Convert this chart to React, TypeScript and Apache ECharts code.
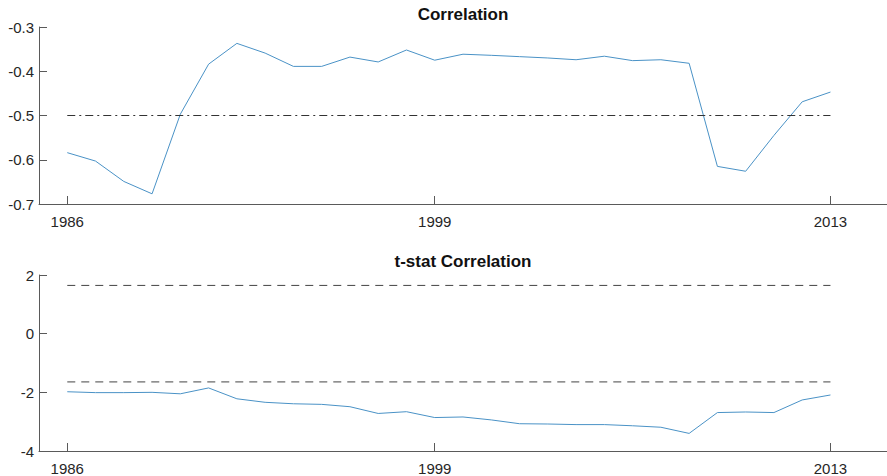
import React, { useEffect, useRef } from "react";
import * as echarts from "echarts";

const years = [1986,1987,1988,1989,1990,1991,1992,1993,1994,1995,1996,1997,1998,1999,2000,2001,2002,2003,2004,2005,2006,2007,2008,2009,2010,2011,2012,2013];
const correlation = [-0.584,-0.603,-0.649,-0.677,-0.497,-0.384,-0.337,-0.359,-0.389,-0.389,-0.368,-0.379,-0.352,-0.375,-0.3615,-0.364,-0.367,-0.370,-0.374,-0.366,-0.376,-0.374,-0.382,-0.615,-0.626,-0.545,-0.469,-0.447];
const tstat = [-1.98,-2.01,-2.01,-2.00,-2.05,-1.85,-2.22,-2.34,-2.39,-2.41,-2.49,-2.72,-2.66,-2.86,-2.84,-2.94,-3.07,-3.08,-3.10,-3.10,-3.14,-3.19,-3.40,-2.69,-2.67,-2.69,-2.26,-2.09];
const xTickYears = [1986, 1999, 2013];
const corrThreshold = -0.5;
const tCritical = 1.645;

export default function App() {
  const ref = useRef<HTMLDivElement>(null);
  useEffect(() => {
    if (!ref.current) return;
    const chart = echarts.init(ref.current, null, { renderer: "svg" });
    const font = "Liberation Sans, Arial, Helvetica, sans-serif";
    const axisColor = "#5a5a5a";
    const labelColor = "#262626";
    const lineColor = "#4a92c6";
    const first = years[0];
    const last = years[years.length - 1];
    const xAxisBase = (gridIndex: number) => ({
      type: "value",
      gridIndex,
      min: 1985,
      max: 2015,
      axisLine: { show: true, onZero: false, lineStyle: { color: axisColor, width: 1 } },
      axisTick: { show: true, inside: true, length: 8, customValues: xTickYears, lineStyle: { color: axisColor } },
      axisLabel: {
        customValues: xTickYears, color: labelColor, fontSize: 15, fontFamily: font, margin: 10,
        formatter: (v: number) => String(v),
      },
      splitLine: { show: false },
    });
    const yAxisBase = (gridIndex: number, min: number, max: number, interval: number) => ({
      type: "value",
      gridIndex,
      min,
      max,
      interval,
      axisLine: { show: true, onZero: false, lineStyle: { color: axisColor, width: 1 } },
      axisTick: { show: true, inside: true, length: 8, lineStyle: { color: axisColor } },
      axisLabel: {
        color: labelColor, fontSize: 15, fontFamily: font, margin: 5,
        formatter: (v: number) => String(Math.round(v * 10) / 10),
      },
      splitLine: { show: false },
    });
    chart.setOption({
      animation: false,
      backgroundColor: "#ffffff",
      title: [
        { text: "Correlation", left: 463, top: 6, padding: 0, textAlign: "center",
          textStyle: { fontSize: 17, fontWeight: "bold", color: "#111", fontFamily: font } },
        { text: "t-stat Correlation", left: 463, top: 253, padding: 0, textAlign: "center",
          textStyle: { fontSize: 17, fontWeight: "bold", color: "#111", fontFamily: font } },
      ],
      grid: [
        { left: 39, right: -1, top: 27, height: 177 },
        { left: 39, right: -1, top: 275, height: 176 },
      ],
      xAxis: [xAxisBase(0), xAxisBase(1)],
      yAxis: [yAxisBase(0, -0.7, -0.3, 0.1), yAxisBase(1, -4, 2, 2)],
      series: [
        {
          type: "line", xAxisIndex: 0, yAxisIndex: 0, showSymbol: false,
          data: years.map((y, i) => [y, correlation[i]]),
          lineStyle: { color: lineColor, width: 1 },
        },
        {
          type: "line", xAxisIndex: 0, yAxisIndex: 0, showSymbol: false,
          data: [[first, corrThreshold], [last, corrThreshold]],
          lineStyle: { color: "#333", width: 1, type: [8, 4, 2, 4] },
        },
        {
          type: "line", xAxisIndex: 1, yAxisIndex: 1, showSymbol: false,
          data: years.map((y, i) => [y, tstat[i]]),
          lineStyle: { color: lineColor, width: 1 },
        },
        {
          type: "line", xAxisIndex: 1, yAxisIndex: 1, showSymbol: false,
          data: [[first, tCritical], [last, tCritical]],
          lineStyle: { color: "#444", width: 1, type: [8, 6] },
        },
        {
          type: "line", xAxisIndex: 1, yAxisIndex: 1, showSymbol: false,
          data: [[first, -tCritical], [last, -tCritical]],
          lineStyle: { color: "#444", width: 1, type: [8, 6] },
        },
      ],
    });
    return () => chart.dispose();
  }, []);
  return <div ref={ref} style={{ position: "fixed", left: 0, top: 0, width: 887, height: 476 }} />;
}
